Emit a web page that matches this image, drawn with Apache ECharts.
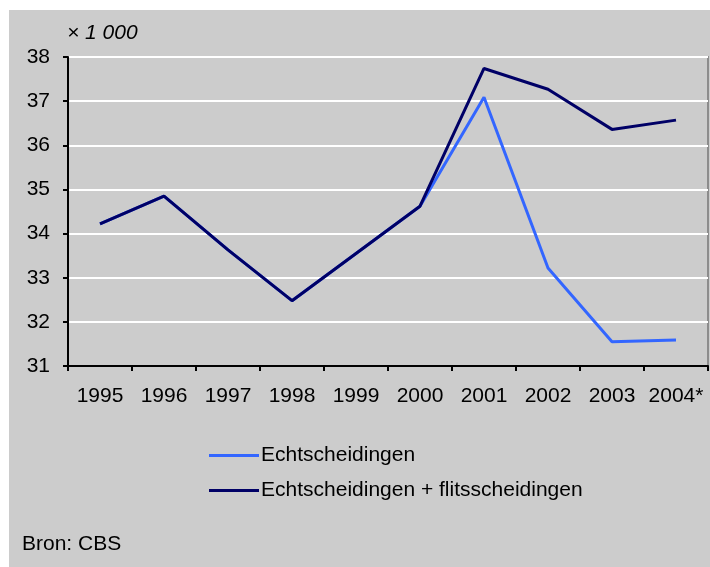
<!DOCTYPE html>
<html>
<head>
<meta charset="utf-8">
<script src="https://cdn.jsdelivr.net/npm/echarts@6/dist/echarts.min.js"></script>
<style>
  html, body { margin: 0; padding: 0; background: #ffffff; }
  #chart { position: absolute; left: 9px; top: 10px; width: 701px; height: 557px; }
</style>
</head>
<body>
<div id="chart"></div>
<script>
// jaren (2004 voorlopig)
var years = ['1995', '1996', '1997', '1998', '1999', '2000', '2001', '2002', '2003', '2004*'];
// x 1 000
var echtscheidingen = [34.22, 34.85, 33.63, 32.48, 33.55, 34.62, 37.09, 33.22, 31.55, 31.59];
var metFlits = [34.22, 34.85, 33.63, 32.48, 33.55, 34.62, 37.74, 37.27, 36.36, 36.57];
var seriesNames = ['Echtscheidingen', 'Echtscheidingen + flitsscheidingen'];
var yTicks = [31, 38, 1];

var font = '"Liberation Sans", Arial, sans-serif';
var fs = 21;
var chart = echarts.init(document.getElementById('chart'));

var option = {
    backgroundColor: '#cccccc',
    animation: false,
    textStyle: { fontFamily: font },
    grid: {
        left: 59, top: 47, right: 2, bottom: 201,
        show: true,
        backgroundColor: '#cccccc',
        borderColor: '#8c8c8c',
        borderWidth: 2
    },
    legend: {
        orient: 'vertical',
        left: 195, top: 430,
        itemWidth: 50, itemHeight: 3,
        itemGap: 14,
        icon: 'rect',
        data: seriesNames,
        textStyle: { fontFamily: font, fontSize: fs, lineHeight: 21, color: '#000', padding: [0, 0, 0, -3] }
    },
    xAxis: {
        type: 'category',
        data: years,
        boundaryGap: true,
        axisLine: { lineStyle: { color: '#000', width: 2 } },
        axisTick: { show: true, interval: 0, length: 5, lineStyle: { color: '#000', width: 2 } },
        axisLabel: { interval: 0, hideOverlap: false, color: '#000', fontSize: fs, fontFamily: font, margin: 20 },
        splitLine: { show: false }
    },
    yAxis: {
        type: 'value',
        min: yTicks[0], max: yTicks[1], interval: yTicks[2],
        axisLine: { show: true, lineStyle: { color: '#000', width: 2 } },
        axisTick: { show: true, length: 5, lineStyle: { color: '#000', width: 2 } },
        axisLabel: { color: '#000', fontSize: fs, fontFamily: font, margin: 18 },
        splitLine: { show: true, lineStyle: { color: '#ffffff', width: 2 } }
    },
    graphic: [
        { type: 'text', left: 58, top: 13, style: { text: '\u00d7 1 000', font: 'italic ' + fs + 'px ' + font, fill: '#000' } },
        { type: 'text', left: 13, top: 524, style: { text: 'Bron: CBS', font: fs + 'px ' + font, fill: '#000' } }
    ],
    series: [
        {
            name: seriesNames[0],
            type: 'line',
            data: echtscheidingen,
            symbol: 'none',
            color: '#3366ff',
            lineStyle: { color: '#3366ff', width: 3 }
        },
        {
            name: seriesNames[1],
            type: 'line',
            data: metFlits,
            symbol: 'none',
            color: '#000066',
            lineStyle: { color: '#000066', width: 3 }
        }
    ]
};

chart.setOption(option);
</script>
</body>
</html>
